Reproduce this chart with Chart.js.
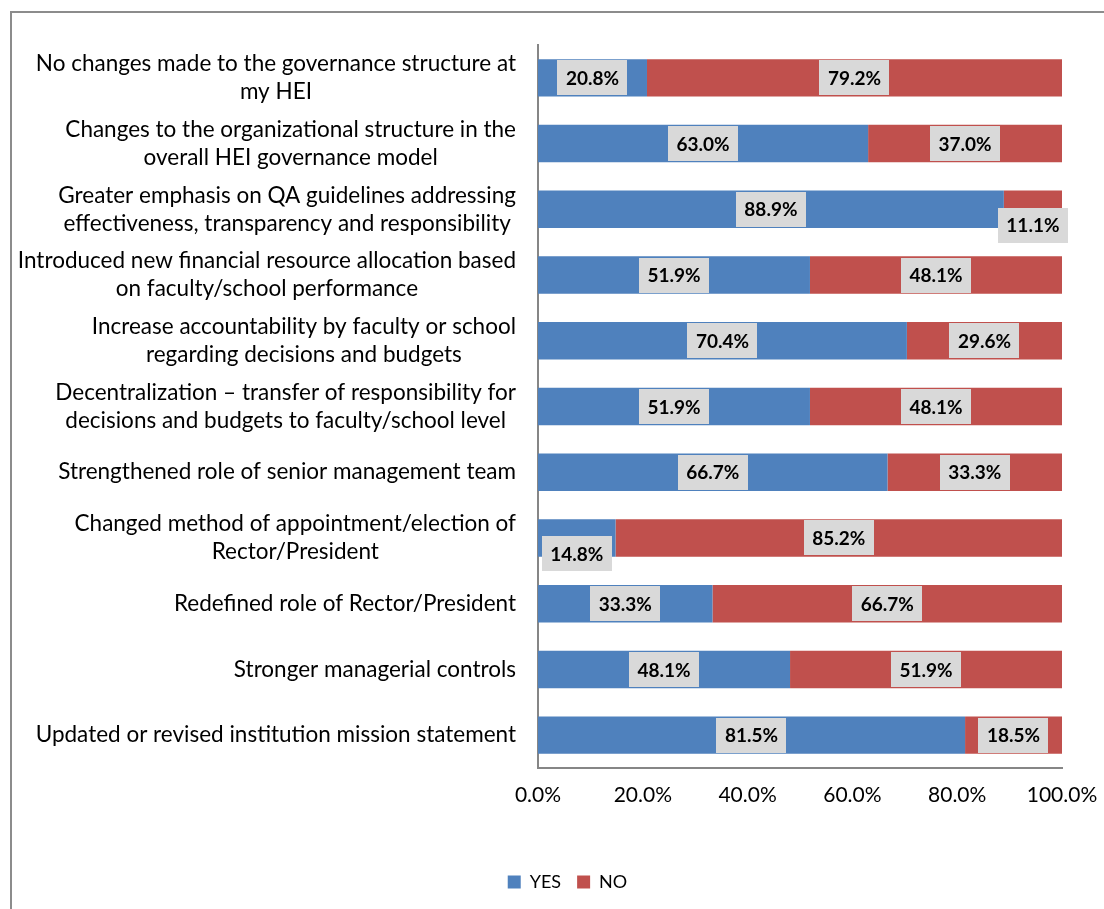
<!DOCTYPE html>
<html>
<head>
<meta charset="utf-8">
<script src="https://cdn.jsdelivr.net/npm/chart.js@4.4.0/dist/chart.umd.min.js"></script>
<style>
  html, body { margin: 0; padding: 0; background: #fff; overflow: hidden; }
  #frame { position: absolute; left: 10px; top: 11px; width: 2000px; height: 2000px; border: 2px solid #8c8c8c; }
  #wrap { position: absolute; left: 0; top: 0; width: 1104px; height: 909px; }
</style>
</head>
<body>
<div id="frame"></div>
<div id="wrap"><canvas id="govchart" width="1104" height="909"></canvas></div>
<script>
var categories = [
    ['No changes made to the governance structure at', 'my HEI'],
    ['Changes to the organizational structure in the', 'overall HEI governance model'],
    ['Greater emphasis on QA guidelines addressing', 'effectiveness, transparency and responsibility'],
    ['Introduced new financial resource allocation based', 'on faculty/school performance'],
    ['Increase accountability by faculty or school', 'regarding decisions and budgets'],
    ['Decentralization \u2013 transfer of responsibility for', 'decisions and budgets to faculty/school level'],
    ['Strengthened role of senior management team'],
    ['Changed method of appointment/election of', 'Rector/President'],
    ['Redefined role of Rector/President'],
    ['Stronger managerial controls'],
    ['Updated or revised institution mission statement']
];
var yes_values = [20.8, 63.0, 88.9, 51.9, 70.4, 51.9, 66.7, 14.8, 33.3, 48.1, 81.5];
var no_values  = [79.2, 37.0, 11.1, 48.1, 29.6, 48.1, 33.3, 85.2, 66.7, 51.9, 18.5];
var series_names = ['YES', 'NO'];
var x_ticks = [0, 20, 40, 60, 80, 100];

var FONT = 'Lato, "Open Sans", sans-serif';

// category labels: block right-aligned at the axis, lines centred inside the block
var categoryLabels = {
    id: 'categoryLabels',
    afterDraw: function(chart) {
        var ctx = chart.ctx, yScale = chart.scales.y;
        var right = chart.chartArea.left - 22;
        ctx.save();
        ctx.font = '22.5px ' + FONT;
        ctx.fillStyle = '#000';
        ctx.textAlign = 'center';
        ctx.textBaseline = 'middle';
        for (var i = 0; i < categories.length; i++) {
            var lines = categories[i], w = 0;
            for (var j = 0; j < lines.length; j++) {
                w = Math.max(w, ctx.measureText(lines[j]).width);
            }
            var cx = right - w / 2;
            var cy = yScale.getPixelForValue(i);
            var lh = 28;
            var top = cy - (lines.length - 1) * lh / 2;
            for (j = 0; j < lines.length; j++) {
                ctx.fillText(lines[j], cx, top + j * lh);
            }
        }
        ctx.restore();
    }
};

// value labels in grey boxes
var valueBoxes = {
    id: 'valueBoxes',
    afterDatasetsDraw: function(chart) {
        var ctx = chart.ctx;
        ctx.save();
        ctx.font = 'bold 19px ' + FONT;
        ctx.textAlign = 'center';
        ctx.textBaseline = 'middle';
        chart.data.datasets.forEach(function(ds, di) {
            var meta = chart.getDatasetMeta(di);
            meta.data.forEach(function(bar, i) {
                var v = ds.data[i];
                var txt = v.toFixed(1) + '%';
                var cx = (bar.x + bar.base) / 2;
                var cy = bar.y;
                if (v < 15) cy += 16;
                var tw = ctx.measureText(txt).width;
                var bw = tw + 17, bh = 35;
                ctx.fillStyle = '#d9d9d9';
                ctx.fillRect(Math.round(cx - bw / 2), Math.round(cy - bh / 2), Math.round(bw), bh);
                ctx.fillStyle = '#000';
                ctx.fillText(txt, cx, cy + 1);
            });
        });
        ctx.restore();
    }
};

new Chart(document.getElementById('govchart').getContext('2d'), {
    type: 'bar',
    data: {
        labels: categories,
        datasets: [{
            label: series_names[0],
            data: yes_values,
            backgroundColor: '#4f81bd',
            barPercentage: 0.57,
            categoryPercentage: 1.0
        }, {
            label: series_names[1],
            data: no_values,
            backgroundColor: '#c0504d',
            barPercentage: 0.57,
            categoryPercentage: 1.0
        }]
    },
    options: {
        indexAxis: 'y',
        responsive: false,
        animation: false,
        layout: { padding: { top: 45, left: 73, right: 42, bottom: 8 } },
        scales: {
            x: {
                stacked: true,
                min: 0,
                max: 100,
                afterBuildTicks: function(scale) {
                    scale.ticks = x_ticks.map(function(v) { return { value: v }; });
                },
                afterFit: function(scale) {
                    scale.height = 89;
                    scale.paddingLeft = 0;
                    scale.paddingRight = 0;
                },
                grid: { display: false, drawTicks: false },
                border: { display: true, color: '#868686', width: 2 },
                ticks: {
                    padding: 15,
                    color: '#000',
                    font: { family: FONT, size: 21 },
                    callback: function(v) { return v.toFixed(1) + '%'; }
                }
            },
            y: {
                stacked: true,
                afterFit: function(scale) { scale.width = 538 - 73; },
                grid: { display: false, drawTicks: false },
                border: { display: true, color: '#868686', width: 2 },
                ticks: { display: false }
            }
        },
        plugins: {
            tooltip: { enabled: false },
            legend: {
                position: 'bottom',
                labels: {
                    boxWidth: 13,
                    boxHeight: 13,
                    padding: 16,
                    color: '#000',
                    font: { family: FONT, size: 18 }
                }
            }
        }
    },
    plugins: [categoryLabels, valueBoxes]
});
</script>
</body>
</html>
